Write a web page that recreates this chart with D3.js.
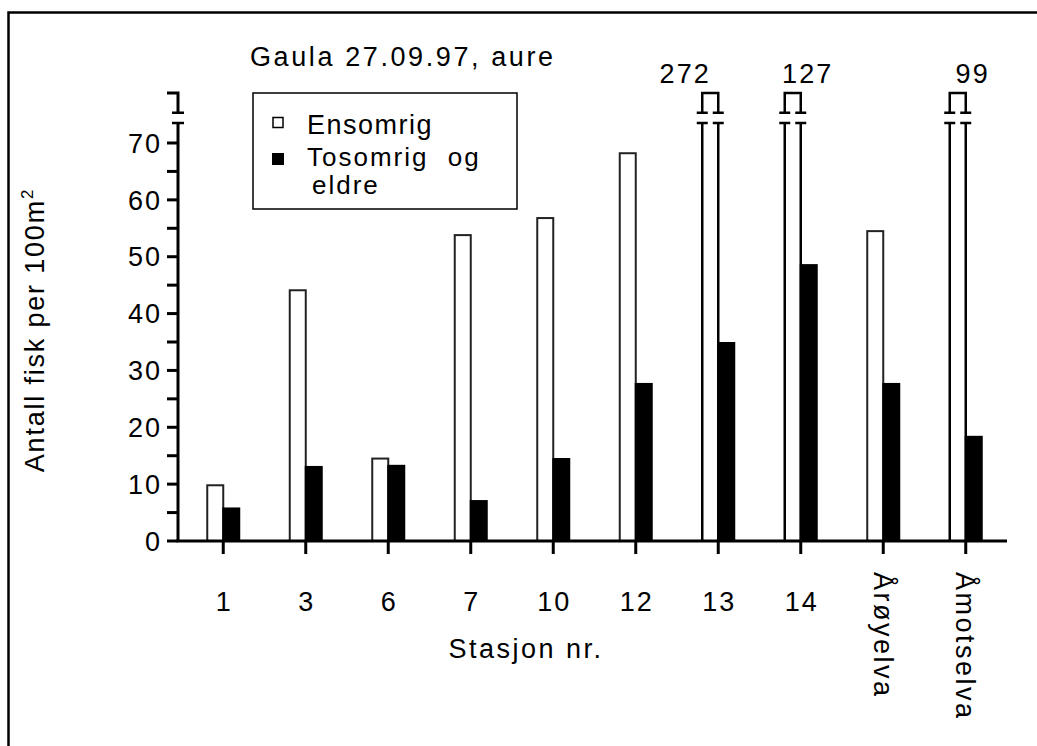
<!DOCTYPE html>
<html><head><meta charset="utf-8">
<script src="https://cdn.jsdelivr.net/npm/d3@7"></script>
<style>
body{margin:0;background:#fff;}
text{font-family:"Liberation Sans",Arial,sans-serif;fill:#000;}
</style></head>
<body><svg id="chart" width="1037" height="746"></svg>
<script>
// ---- data ----
const categories = ["1","3","6","7","10","12","13","14","Årøyelva","Åmotselva"];
const ensomrig   = [9.8, 44.1, 14.5, 53.8, 56.8, 68.2, 272, 127, 54.5, 99];
const tosomrig   = [5.9, 13.2, 13.4, 7.2, 14.6, 27.8, 35.0, 48.7, 27.8, 18.5];
const yTickValues = [0,5,10,15,20,25,30,35,40,45,50,55,60,65,70];
const yLabelValues = [0,10,20,30,40,50,60,70];
const seriesNames = ["Ensomrig","Tosomrig og","eldre"];
const titleText = "Gaula 27.09.97, aure";
const xTitle = "Stasjon nr.";
const yTitle = "Antall fisk per 100m";

// ---- layout ----
const yMaxShown = 70, breakLow = 73.5, breakHigh = 75.3, axisTop = 78.8;
const rotatedCats = ["Årøyelva","Åmotselva"];
const svg = d3.select("#chart");
const FS = 27;

const x = d3.scaleBand().domain(categories).range([182, 1007]);
const y = d3.scaleLinear().domain([0, yMaxShown]).range([541, 143]);
const cx = c => x(c) + x.bandwidth()/2;

// frame
svg.append("path").attr("d","M8.5,746 V12.5 H1037").attr("fill","none").attr("stroke","#000").attr("stroke-width",2.5);

// title
svg.append("text").attr("x",250).attr("y",66).attr("font-size",FS).attr("letter-spacing",2.6).text(titleText);

// bars
const g = svg.append("g");
categories.forEach((c,i)=>{
  const c0 = cx(c);
  const v = ensomrig[i];
  const L = c0-16, R = c0;
  if (v <= yMaxShown) {
    g.append("rect").attr("x",L).attr("y",y(v)).attr("width",R-L).attr("height",y(0)-y(v))
      .attr("fill","#fff").attr("stroke","#222").attr("stroke-width",2);
  } else {
    const yb = y(breakLow), yt = y(breakHigh), ytop = y(axisTop);
    g.append("path").attr("d",`M${L},${y(0)} V${yb} M${R},${y(0)} V${yb} M${L},${yt} V${ytop} H${R} V${yt}`)
      .attr("fill","none").attr("stroke","#000").attr("stroke-width",2.5);
    g.append("path").attr("d",`M${L-5.5},${yb} H${L+5.5} M${R-5.5},${yb} H${R+5.5} M${L-5.5},${yt} H${L+5.5} M${R-5.5},${yt} H${R+5.5}`)
      .attr("fill","none").attr("stroke","#000").attr("stroke-width",2.5);
  }
  const w = tosomrig[i];
  g.append("rect").attr("x",c0-1).attr("y",y(w)).attr("width",18).attr("height",y(0)-y(w)).attr("fill","#000");
});

// value labels for broken bars
const labelDx = {"13":-26,"14":14,"Åmotselva":14};
categories.forEach((c,i)=>{
  if (ensomrig[i] > yMaxShown) {
    svg.append("text").attr("x",cx(c)-8+(labelDx[c]||0)+1).attr("y",83).attr("text-anchor","middle")
      .attr("font-size",FS).attr("letter-spacing",2.2).text(ensomrig[i]);
  }
});

// y axis
const ya = svg.append("g");
ya.append("path").attr("d",`M178,${y(0)} V${y(breakLow)} M178,${y(breakHigh)} V${y(axisTop)} M167,${y(axisTop)} H179.5`)
  .attr("fill","none").attr("stroke","#000").attr("stroke-width",3);
ya.append("path").attr("d",`M172,${y(breakLow)} H184 M172,${y(breakHigh)} H184`)
  .attr("fill","none").attr("stroke","#000").attr("stroke-width",2.5);
ya.selectAll("line.t").data(yTickValues).enter().append("line")
  .attr("x1",167).attr("x2",178).attr("y1",d=>y(d)).attr("y2",d=>y(d)).attr("stroke","#000").attr("stroke-width",3);
ya.selectAll("text").data(yLabelValues).enter().append("text")
  .attr("x",162).attr("y",d=>y(d)).attr("dy","0.36em").attr("text-anchor","end")
  .attr("font-size",FS).attr("letter-spacing",2).text(d=>d);

// x axis
svg.append("line").attr("x1",176.5).attr("x2",1007).attr("y1",y(0)).attr("y2",y(0)).attr("stroke","#000").attr("stroke-width",3);
svg.selectAll("line.xt").data(categories).enter().append("line")
  .attr("x1",d=>cx(d)).attr("x2",d=>cx(d)).attr("y1",y(0)).attr("y2",y(0)+13).attr("stroke","#000").attr("stroke-width",3);
categories.forEach(c=>{
  if (rotatedCats.includes(c)) {
    svg.append("text").attr("transform",`translate(${cx(c)-9.5},572) rotate(90)`)
      .attr("font-size",FS).attr("letter-spacing",2.5).text(c);
  } else {
    svg.append("text").attr("x",cx(c)+1).attr("y",611).attr("text-anchor","middle")
      .attr("font-size",FS).attr("letter-spacing",2).text(c);
  }
});

// axis titles
svg.append("text").attr("x",526).attr("y",658).attr("text-anchor","middle").attr("font-size",FS).attr("letter-spacing",2.5).text(xTitle);
const yt = svg.append("text").attr("transform","translate(44,330) rotate(-90)").attr("text-anchor","middle")
  .attr("font-size",FS).attr("letter-spacing",1.8);
yt.append("tspan").text(yTitle);
yt.append("tspan").attr("dy",-11).attr("font-size",17).text("2");

// legend
const lg = svg.append("g");
lg.append("rect").attr("x",253).attr("y",93).attr("width",264).attr("height",116).attr("fill","#fff").attr("stroke","#000").attr("stroke-width",1.5);
lg.append("rect").attr("x",273).attr("y",117.5).attr("width",10).attr("height",10).attr("fill","#fff").attr("stroke","#000").attr("stroke-width",1.5);
lg.append("rect").attr("x",272).attr("y",153).attr("width",12).attr("height",12).attr("fill","#000");
lg.append("text").attr("x",307).attr("y",133.5).attr("font-size",FS).attr("letter-spacing",1.5).text(seriesNames[0]);
lg.append("text").attr("x",307).attr("y",165.5).attr("font-size",26).attr("letter-spacing",2).attr("word-spacing",10).text(seriesNames[1]);
lg.append("text").attr("x",312).attr("y",194).attr("font-size",26).attr("letter-spacing",2).text(seriesNames[2]);
</script></body></html>
